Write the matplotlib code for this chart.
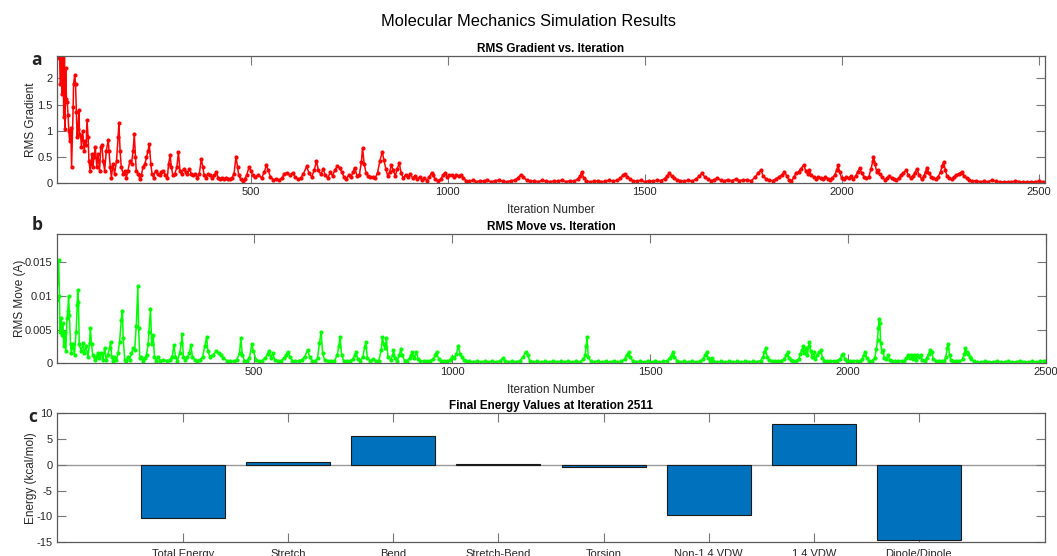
import matplotlib
matplotlib.use("Agg")
import matplotlib.pyplot as plt

plt.rcParams['font.family'] = ['Liberation Sans', 'DejaVu Sans']
plt.rcParams['axes.unicode_minus'] = False

# ---------------- data ----------------
grad_iter = [10, 14, 17, 20, 22, 24, 26, 28, 29, 31, 33, 35, 37, 39, 41, 44, 46, 50, 51, 54, 56, 58, 60, 62, 65, 66, 69, 71, 74, 78,
             81, 83, 85, 88, 90, 93, 95, 98, 100, 103, 106, 110, 113, 117, 120, 123, 126, 130, 134, 139, 141, 144, 147, 151, 155,
             160, 164, 166, 169, 172, 177, 181, 185, 189, 194, 198, 202, 205, 208, 210, 215, 219, 223, 227, 232, 236, 240, 243,
             247, 250, 254, 259, 264, 269, 274, 279, 284, 289, 292, 296, 299, 303, 308, 313, 317, 321, 325, 330, 335, 340, 345,
             350, 355, 360, 365, 370, 375, 379, 382, 387, 392, 397, 402, 408, 413, 418, 423, 428, 433, 438, 443, 448, 453, 458,
             463, 467, 470, 475, 480, 485, 490, 496, 501,
             505, 512, 520, 528, 535, 540, 545, 550, 558, 565, 572, 580, 585, 592, 600, 607, 613, 620, 627, 634, 642, 648, 655,
             662, 667, 672, 678, 684, 690, 696, 702, 708, 714, 720, 726, 731, 737, 743, 749, 755, 760, 764, 770, 776, 781, 784,
             788, 793, 798, 804, 810, 816, 822, 828, 834, 838, 843, 848, 853, 857, 862, 867, 872, 877, 882, 887, 893, 899, 905,
             911, 917, 923, 929, 935, 941, 947, 953, 959, 963, 968, 975, 982, 988, 993, 998, 1004, 1010, 1016, 1022, 1028, 1034,
             1040, 1046, 1055, 1064, 1073, 1082, 1091, 1100, 1110, 1120, 1130, 1140, 1150, 1160, 1170, 1178, 1185, 1192, 1200,
             1210, 1220, 1230, 1240, 1250, 1260, 1270, 1280, 1290, 1300, 1310, 1320, 1330, 1336, 1340, 1345, 1352, 1360, 1370,
             1380, 1390, 1400, 1410, 1420, 1430, 1438, 1445, 1450, 1456, 1463, 1470, 1480, 1490, 1500, 1510, 1520, 1530, 1540,
             1550, 1557, 1562, 1568, 1575, 1582, 1590, 1600, 1610, 1620, 1630, 1638, 1645, 1652, 1660, 1668, 1676, 1684, 1692,
             1700, 1710, 1720, 1730, 1740, 1750, 1760, 1770, 1780, 1788, 1795, 1800, 1808, 1816, 1824, 1832, 1840, 1848, 1854,
             1860, 1866, 1872, 1878, 1884, 1890, 1896, 1903, 1908, 1913, 1917, 1922, 1928, 1934, 1940, 1946, 1952, 1958, 1964,
             1970, 1976, 1982, 1987, 1990, 1994, 1999, 2005, 2011, 2017, 2023, 2029, 2035, 2040, 2045, 2050, 2056, 2062, 2068,
             2074, 2078, 2080, 2084, 2088, 2092, 2096, 2102, 2108, 2114, 2120, 2126, 2132, 2138, 2144, 2150, 2156, 2163, 2168,
             2174, 2180, 2185, 2190, 2196, 2202, 2208, 2212, 2216, 2220, 2226, 2232, 2238, 2244, 2250, 2254, 2258, 2262, 2266,
             2272, 2278, 2284, 2290, 2296, 2301, 2305, 2310, 2316, 2322, 2330, 2340, 2350, 2360, 2370, 2380, 2390, 2400, 2410,
             2420, 2430, 2440, 2450, 2460, 2470, 2480, 2490, 2500, 2511]
grad_vals = [2.38, 3.2, 1.9, 3.5, 1.7, 3.0, 1.26, 2.6, 1.04, 2.2, 1.6, 1.55, 1.3, 1.0, 0.8, 1.05, 0.31, 1.45, 1.9, 2.06, 1.9, 1.36,
             0.88, 1.04, 1.39, 0.94, 0.91, 0.69, 1.0, 0.62, 0.81, 0.72, 1.2, 0.88, 0.43, 0.24, 0.37, 0.56, 0.31, 0.50, 0.69, 0.31,
             0.56, 0.24, 0.69, 0.72, 0.43, 0.24, 0.62, 0.82, 0.62, 0.31, 0.11, 0.37, 0.18, 0.43, 0.88, 1.15, 0.62, 0.31, 0.18,
             0.24, 0.11, 0.24, 0.43, 0.37, 0.62, 0.94, 0.50, 0.24, 0.18, 0.08, 0.15, 0.31, 0.37, 0.50, 0.62, 0.75, 0.37, 0.18,
             0.11, 0.24, 0.18, 0.15, 0.21, 0.24, 0.15, 0.11, 0.37, 0.53, 0.31, 0.15, 0.18, 0.31, 0.59, 0.24, 0.18, 0.27, 0.21,
             0.18, 0.27, 0.18, 0.15, 0.18, 0.11, 0.18, 0.46, 0.31, 0.15, 0.11, 0.18, 0.15, 0.11, 0.15, 0.21, 0.11, 0.08, 0.11,
             0.08, 0.11, 0.08, 0.08, 0.11, 0.18, 0.51, 0.31, 0.15, 0.08, 0.05, 0.08, 0.15, 0.31, 0.24,
             0.15, 0.12, 0.16, 0.10, 0.22, 0.34, 0.25, 0.12, 0.07, 0.08, 0.06, 0.10, 0.18, 0.20, 0.16, 0.20, 0.12, 0.08, 0.10,
             0.18, 0.32, 0.20, 0.12, 0.26, 0.43, 0.25, 0.17, 0.27, 0.15, 0.10, 0.21, 0.14, 0.26, 0.32, 0.30, 0.22, 0.12, 0.08,
             0.16, 0.12, 0.22, 0.30, 0.14, 0.16, 0.40, 0.68, 0.37, 0.20, 0.14, 0.12, 0.12, 0.10, 0.20, 0.43, 0.60, 0.45, 0.28,
             0.14, 0.22, 0.34, 0.25, 0.14, 0.28, 0.38, 0.20, 0.10, 0.16, 0.12, 0.18, 0.10, 0.13, 0.08, 0.12, 0.06, 0.10, 0.05,
             0.12, 0.20, 0.16, 0.08, 0.05, 0.08, 0.15, 0.20, 0.12, 0.15, 0.16, 0.12, 0.16, 0.14, 0.16, 0.10, 0.05, 0.04, 0.06,
             0.03, 0.05, 0.04, 0.06, 0.03, 0.05, 0.06, 0.04, 0.03, 0.05, 0.06, 0.10, 0.16, 0.12, 0.06, 0.04, 0.05, 0.03, 0.06,
             0.04, 0.03, 0.05, 0.04, 0.06, 0.03, 0.05, 0.04, 0.08, 0.14, 0.22, 0.10, 0.05, 0.03, 0.04, 0.05, 0.03, 0.04, 0.06,
             0.04, 0.06, 0.10, 0.16, 0.18, 0.12, 0.08, 0.05, 0.04, 0.06, 0.03, 0.05, 0.04, 0.06, 0.05, 0.09, 0.14, 0.20, 0.14,
             0.10, 0.06, 0.05, 0.04, 0.06, 0.04, 0.08, 0.14, 0.19, 0.12, 0.08, 0.05, 0.07, 0.10, 0.06, 0.04, 0.07, 0.05, 0.08,
             0.05, 0.07, 0.06, 0.05, 0.12, 0.20, 0.25, 0.14, 0.08, 0.06, 0.05, 0.08, 0.12, 0.16, 0.22, 0.14, 0.06, 0.04, 0.12,
             0.20, 0.22, 0.28, 0.35, 0.24, 0.18, 0.25, 0.16, 0.12, 0.08, 0.12, 0.10, 0.08, 0.12, 0.09, 0.07, 0.10, 0.16, 0.26,
             0.35, 0.22, 0.10, 0.08, 0.12, 0.10, 0.13, 0.08, 0.14, 0.22, 0.29, 0.20, 0.12, 0.10, 0.12, 0.28, 0.42, 0.51, 0.36,
             0.22, 0.25, 0.18, 0.12, 0.07, 0.10, 0.14, 0.10, 0.08, 0.06, 0.10, 0.16, 0.20, 0.25, 0.16, 0.10, 0.14, 0.20, 0.27,
             0.16, 0.08, 0.14, 0.22, 0.30, 0.20, 0.12, 0.10, 0.08, 0.12, 0.22, 0.33, 0.41, 0.26, 0.14, 0.10, 0.08, 0.12, 0.16,
             0.18, 0.20, 0.21, 0.14, 0.10, 0.06, 0.04, 0.05, 0.03, 0.04, 0.03, 0.06, 0.04, 0.03, 0.02, 0.03, 0.02, 0.05, 0.03,
             0.02, 0.03, 0.02, 0.03, 0.04, 0.03]

move_iter = [1, 3, 6, 8, 9, 12, 15, 16, 19, 21, 24, 27, 29, 31, 33, 36, 38, 42, 46, 50, 53, 54, 56, 58, 63, 67, 71, 75, 80, 84, 86,
             89, 92, 97, 101, 105, 109, 114, 118, 122, 126, 130, 135, 137, 140, 143, 147, 152, 156, 160, 164, 167, 169, 173, 177,
             181, 185, 190, 194, 198, 202, 206, 208, 211, 215, 219, 224, 228, 232, 234, 238, 241, 245, 248, 253, 257, 262, 270,
             279, 287, 293, 297, 301, 306, 312, 316, 318, 321, 325, 331, 336, 340, 344, 350, 356, 363, 370, 375, 380, 383, 388,
             397, 404, 411, 417, 422, 431, 439, 448, 456, 463, 466, 470, 475, 482, 488, 494, 498, 505,
             512, 520, 528, 534, 538, 542, 547, 552, 560, 568, 576, 581, 585, 590, 596, 604, 612, 620, 628, 635, 640, 646, 654,
             660, 665, 669, 673, 678, 686, 694, 702, 710, 714, 717, 721, 726, 734, 742, 750, 754, 757, 762, 768, 775, 779, 782,
             786, 792, 801, 808, 815, 821, 824, 827, 831, 834, 838, 845, 850, 852, 856, 862, 867, 870, 874, 880, 887, 893, 897,
             900, 905, 910, 914, 920, 928, 936, 944, 952, 958, 961, 966, 972, 980, 988, 996, 1001, 1006, 1011, 1016, 1020, 1025,
             1030, 1036, 1044, 1052, 1062, 1072, 1082, 1092, 1102, 1112, 1122, 1129, 1134, 1142, 1152, 1162, 1172, 1180, 1186,
             1191, 1196, 1204, 1214, 1224, 1234, 1244, 1254, 1264, 1274, 1284, 1294, 1304, 1314, 1324, 1332, 1336, 1339, 1341,
             1344, 1350, 1358, 1368, 1378, 1388, 1398, 1408, 1418, 1428, 1436, 1441, 1446, 1450, 1456, 1464, 1474, 1484, 1494,
             1504, 1514, 1524, 1534, 1544, 1550, 1555, 1558, 1562, 1568, 1576, 1586, 1596, 1606, 1616, 1626, 1634, 1639, 1643,
             1647, 1652, 1656, 1660, 1670, 1680, 1690, 1700, 1710, 1720, 1730, 1740, 1750, 1760, 1770, 1780, 1786, 1789, 1792,
             1796, 1800, 1808, 1816, 1824, 1832, 1840, 1844, 1848, 1852, 1856, 1862, 1870, 1876, 1880, 1884, 1887, 1890, 1894,
             1898, 1901, 1903, 1906, 1910, 1914, 1918, 1923, 1928, 1932, 1936, 1940, 1948, 1956, 1964, 1972, 1980, 1985, 1988,
             1992, 1998, 2006, 2014, 2022, 2030, 2036, 2040, 2044, 2048, 2054, 2062, 2068, 2072, 2075, 2077, 2079, 2081, 2083,
             2086, 2089, 2092, 2097, 2102, 2106, 2112, 2120, 2128, 2136, 2142, 2148, 2152, 2156, 2160, 2164, 2168, 2172, 2176,
             2180, 2184, 2188, 2194, 2200, 2204, 2208, 2212, 2216, 2222, 2230, 2238, 2244, 2248, 2251, 2254, 2257, 2260, 2266,
             2274, 2282, 2290, 2294, 2297, 2300, 2304, 2308, 2312, 2318, 2326, 2336, 2346, 2356, 2366, 2376, 2386, 2396, 2406,
             2416, 2426, 2436, 2446, 2456, 2466, 2476, 2486, 2496, 2500]
move_vals = [0.0094, 0.0119, 0.0153, 0.0099, 0.0047, 0.0067, 0.0042, 0.0059, 0.0025, 0.0047, 0.0018, 0.0067, 0.0077, 0.0099,
             0.0072, 0.0028, 0.0015, 0.0028, 0.0013, 0.0047, 0.0087, 0.0109, 0.0091, 0.0028, 0.0018, 0.0030, 0.0015, 0.0025,
             0.0010, 0.0030, 0.0053, 0.0028, 0.0013, 0.0005, 0.0010, 0.0015, 0.0008, 0.0015, 0.0005, 0.0023, 0.0005, 0.0013,
             0.0023, 0.0032, 0.0010, 0.0004, 0.0010, 0.0005, 0.0015, 0.0032, 0.0064, 0.0077, 0.0037, 0.0005, 0.0004, 0.0010,
             0.0005, 0.0015, 0.0023, 0.0020, 0.0055, 0.0114, 0.0052, 0.0008, 0.0010, 0.0004, 0.0008, 0.0013, 0.0028, 0.0047,
             0.0080, 0.0028, 0.0042, 0.0010, 0.0004, 0.0010, 0.0004, 0.0005, 0.0004, 0.0005, 0.0010, 0.0027, 0.0010, 0.0004,
             0.0015, 0.0030, 0.0043, 0.0010, 0.0005, 0.0009, 0.0015, 0.0027, 0.0010, 0.0005, 0.0004, 0.0005, 0.0010, 0.0025,
             0.0039, 0.0018, 0.0010, 0.0013, 0.0018, 0.0015, 0.0013, 0.0008, 0.0004, 0.0003, 0.0003, 0.0005, 0.0015, 0.0037,
             0.0013, 0.0004, 0.0003, 0.0008, 0.0028, 0.0018, 0.0005,
             0.0003, 0.0004, 0.0008, 0.0014, 0.0018, 0.0008, 0.0015, 0.0005, 0.0003, 0.0004, 0.0008, 0.0013, 0.0017, 0.0010,
             0.0004, 0.0003, 0.0004, 0.0005, 0.0010, 0.0020, 0.0010, 0.0004, 0.0003, 0.0008, 0.0030, 0.0047, 0.0015, 0.0005,
             0.0003, 0.0004, 0.0003, 0.0012, 0.0026, 0.0039, 0.0012, 0.0004, 0.0003, 0.0004, 0.0006, 0.0012, 0.0016, 0.0006,
             0.0004, 0.0010, 0.0024, 0.0031, 0.0008, 0.0004, 0.0006, 0.0003, 0.0004, 0.0020, 0.0039, 0.0028, 0.0022, 0.0037,
             0.0010, 0.0005, 0.0012, 0.0019, 0.0008, 0.0004, 0.0012, 0.0021, 0.0012, 0.0004, 0.0004, 0.0008, 0.0012, 0.0016,
             0.0008, 0.0017, 0.0006, 0.0003, 0.0004, 0.0003, 0.0004, 0.0006, 0.0012, 0.0016, 0.0006, 0.0003, 0.0004, 0.0003,
             0.0005, 0.0010, 0.0008, 0.0014, 0.0026, 0.0014, 0.0009, 0.0005, 0.0004, 0.0003, 0.0002, 0.0003, 0.0002, 0.0003,
             0.0002, 0.0003, 0.0002, 0.0004, 0.0008, 0.0003, 0.0002, 0.0003, 0.0002, 0.0004, 0.0010, 0.0017, 0.0012, 0.0004,
             0.0002, 0.0003, 0.0002, 0.0003, 0.0002, 0.0003, 0.0002, 0.0003, 0.0002, 0.0003, 0.0002, 0.0003, 0.0002, 0.0006,
             0.0012, 0.0025, 0.0039, 0.0010, 0.0003, 0.0002, 0.0003, 0.0002, 0.0003, 0.0002, 0.0003, 0.0002, 0.0003, 0.0006,
             0.0012, 0.0016, 0.0009, 0.0004, 0.0002, 0.0003, 0.0002, 0.0003, 0.0002, 0.0003, 0.0002, 0.0003, 0.0004, 0.0008,
             0.0012, 0.0016, 0.0010, 0.0004, 0.0002, 0.0003, 0.0002, 0.0003, 0.0002, 0.0003, 0.0006, 0.0012, 0.0016, 0.0008,
             0.0004, 0.0008, 0.0003, 0.0002, 0.0003, 0.0002, 0.0003, 0.0002, 0.0003, 0.0002, 0.0003, 0.0002, 0.0003, 0.0002,
             0.0004, 0.0010, 0.0016, 0.0022, 0.0010, 0.0005, 0.0003, 0.0004, 0.0003, 0.0004, 0.0006, 0.0012, 0.0016, 0.0008,
             0.0005, 0.0003, 0.0004, 0.0006, 0.0014, 0.0020, 0.0025, 0.0015, 0.0022, 0.0012, 0.0026, 0.0032, 0.0018, 0.0010,
             0.0016, 0.0006, 0.0012, 0.0016, 0.0019, 0.0008, 0.0004, 0.0003, 0.0004, 0.0003, 0.0004, 0.0006, 0.0012, 0.0014,
             0.0006, 0.0003, 0.0004, 0.0003, 0.0004, 0.0003, 0.0006, 0.0012, 0.0016, 0.0008, 0.0003, 0.0004, 0.0008, 0.0021,
             0.0034, 0.0052, 0.0066, 0.0060, 0.0030, 0.0016, 0.0020, 0.0008, 0.0006, 0.0012, 0.0005, 0.0003, 0.0004, 0.0003,
             0.0004, 0.0003, 0.0008, 0.0012, 0.0008, 0.0012, 0.0006, 0.0012, 0.0005, 0.0013, 0.0009, 0.0012, 0.0005, 0.0004,
             0.0008, 0.0014, 0.0019, 0.0016, 0.0006, 0.0003, 0.0004, 0.0003, 0.0004, 0.0010, 0.0022, 0.0028, 0.0012, 0.0005,
             0.0003, 0.0004, 0.0003, 0.0006, 0.0014, 0.0022, 0.0016, 0.0014, 0.0010, 0.0006, 0.0003, 0.0002, 0.0002, 0.0003,
             0.0002, 0.0002, 0.0003, 0.0002, 0.0002, 0.0003, 0.0002, 0.0002, 0.0004, 0.0002, 0.0002, 0.0003, 0.0002, 0.0003,
             0.0004, 0.0003]

energy_labels = ['Total Energy', 'Stretch', 'Bend', 'Stretch-Bend', 'Torsion', 'Non-1,4 VDW', '1,4 VDW', 'Dipole/Dipole']
energy_vals = [-10.4, 0.6, 5.6, 0.2, -0.5, -9.8, 8.0, -14.7]

# ---------------- figure ----------------
W, H = 1057, 556
fig = plt.figure(figsize=(W / 100, H / 100), dpi=100)

TXT = '#262626'
SPINE = '#5a5a5a'


def frac(l, t, r, b):
    return [l / W, 1 - b / H, (r - l) / W, (b - t) / H]


def style(ax):
    for s in ax.spines.values():
        s.set_color(SPINE)
        s.set_linewidth(0.9)
    ax.tick_params(direction='in', length=6.5, width=0.8, color='#777777',
                   top=True, right=True, labelsize=8, labelcolor=TXT, pad=3)


ax1 = fig.add_axes(frac(57, 55.7, 1045, 183.3))
ax1.plot(grad_iter, grad_vals, '.-', color='#ff0000', lw=1.1, ms=4)
ax1.set_xlim(9, 2515)
ax1.set_ylim(0, 2.43)
ax1.set_xticks([500, 1000, 1500, 2000, 2500])
ax1.set_yticks([0, 0.5, 1, 1.5, 2])
ax1.set_yticklabels(['0', '0.5', '1', '1.5', '2'])
style(ax1)
ax1.set_title('RMS Gradient vs. Iteration', fontsize=8.5, fontweight='bold', color='black', pad=3)
ax1.set_xlabel('Iteration Number', fontsize=8.5, color=TXT, labelpad=5)
ax1.set_ylabel('RMS Gradient', fontsize=8.5, color=TXT, labelpad=0.5)

ax2 = fig.add_axes(frac(56.7, 234.3, 1045.7, 363.3))
ax2.plot(move_iter, move_vals, '.-', color='#00ff00', lw=1.1, ms=4)
ax2.set_xlim(1, 2500)
ax2.set_ylim(0, 0.0191)
ax2.set_xticks([500, 1000, 1500, 2000, 2500])
ax2.set_yticks([0, 0.005, 0.01, 0.015])
ax2.set_yticklabels(['0', '0.005', '0.01', '0.015'])
style(ax2)
ax2.set_title('RMS Move vs. Iteration', fontsize=8.5, fontweight='bold', color='black', pad=3)
ax2.set_xlabel('Iteration Number', fontsize=8.5, color=TXT, labelpad=5)
ax2.set_ylabel('RMS Move (A)', fontsize=8.5, color=TXT, labelpad=-0.5)

ax3 = fig.add_axes(frac(57, 413.3, 1045, 542))
pos = list(range(1, len(energy_vals) + 1))
ax3.axhline(0, color='#9a9a9a', lw=1.0, zorder=1)
ax3.bar(pos, energy_vals, width=0.8, color='#0072bd', edgecolor='#1a1a1a', linewidth=0.8, zorder=2)
ax3.set_xlim(-0.2, 9.2)
ax3.set_ylim(-15, 10)
ax3.set_xticks(pos)
ax3.set_xticklabels(energy_labels)
ax3.set_yticks([-15, -10, -5, 0, 5, 10])
style(ax3)
ax3.tick_params(axis='x', pad=10.5)
for lbl in ax3.get_xticklabels():
    lbl.set_verticalalignment('baseline')
ax3.set_title('Final Energy Values at Iteration 2511', fontsize=8.5, fontweight='bold', color='black', pad=3)
ax3.set_ylabel('Energy (kcal/mol)', fontsize=8.5, color=TXT, labelpad=0)

fig.suptitle('Molecular Mechanics Simulation Results', fontsize=11.8, color='black', y=1 - 22 / H, va='center')

for lab, (x, y) in zip(['a', 'b', 'c'], [(37, 60), (37, 225), (33, 417)]):
    fig.text(x / W, 1 - y / H, lab, fontsize=12.5, fontweight='bold', color='#222222',
             family=['Open Sans', 'DejaVu Sans'], ha='center', va='center')

fig.savefig('out.png', dpi=100)
